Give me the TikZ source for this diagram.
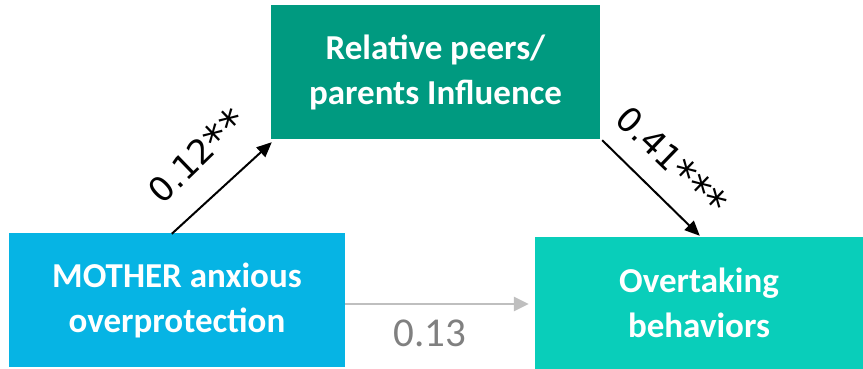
\documentclass[tikz,border=0pt]{standalone}
\usepackage{fontspec}
\setmainfont{Carlito}
\newfontfamily\lblfont{DejaVu Sans}
\usetikzlibrary{arrows.meta,calc}
\definecolor{topcol}{RGB}{0,154,128}
\definecolor{leftcol}{RGB}{6,180,228}
\definecolor{rightcol}{RGB}{9,206,186}
\definecolor{grayline}{RGB}{191,191,191}
\definecolor{graytext}{RGB}{128,128,128}
\newcommand{\bigast}{{\fontsize{42}{42}\selectfont\raisebox{-0.12em}{*}}}
\begin{document}
\begin{tikzpicture}[x=1pt,y=-1pt,
  box/.style={rectangle,inner sep=0pt,text=white,font=\bfseries\fontsize{35}{45}\selectfont,align=center},
  arr/.style={line width=2pt,-{Triangle[length=15pt,width=13pt]}},
  garr/.style={line width=2.5pt,grayline,-{Triangle[length=15pt,width=14pt]}},
  lbl/.style={font=\lblfont\fontsize{34}{40}\selectfont,inner sep=0pt}]
\useasboundingbox (0,0) rectangle (863,369);
\node[box,fill=topcol,minimum width=329pt,minimum height=134pt] (top) at (435.5,72) {Relative peers/\\parents Influence};
\node[box,fill=leftcol,minimum width=336pt,minimum height=134pt] (left) at (177,300) {MOTHER anxious\\overprotection};
\node[box,fill=rightcol,minimum width=328pt,minimum height=132pt] (right) at (699,303) {Overtaking\\behaviors};
\draw[arr] ($(left.north west)+(163,1)$) -- ($(top.south west)+(1,3)$);
\draw[arr] ($(top.south east)+(2,1)$) -- ($(right.north west)+(165,-1)$);
\draw[garr] ($(left.east)+(0,4)$) -- ($(left.east -| right.west)+(-6,4)$);
\node[lbl,rotate=44] (l1) at (198,157) {0.12\bigast\bigast};
\node[lbl,rotate=-44] (l2) at (671,162) {0.41\bigast\bigast\bigast};
\node[font=\fontsize{41}{48}\selectfont,text=graytext,inner sep=0pt] (l3) at (430,333) {0.13};
\end{tikzpicture}
\end{document}
